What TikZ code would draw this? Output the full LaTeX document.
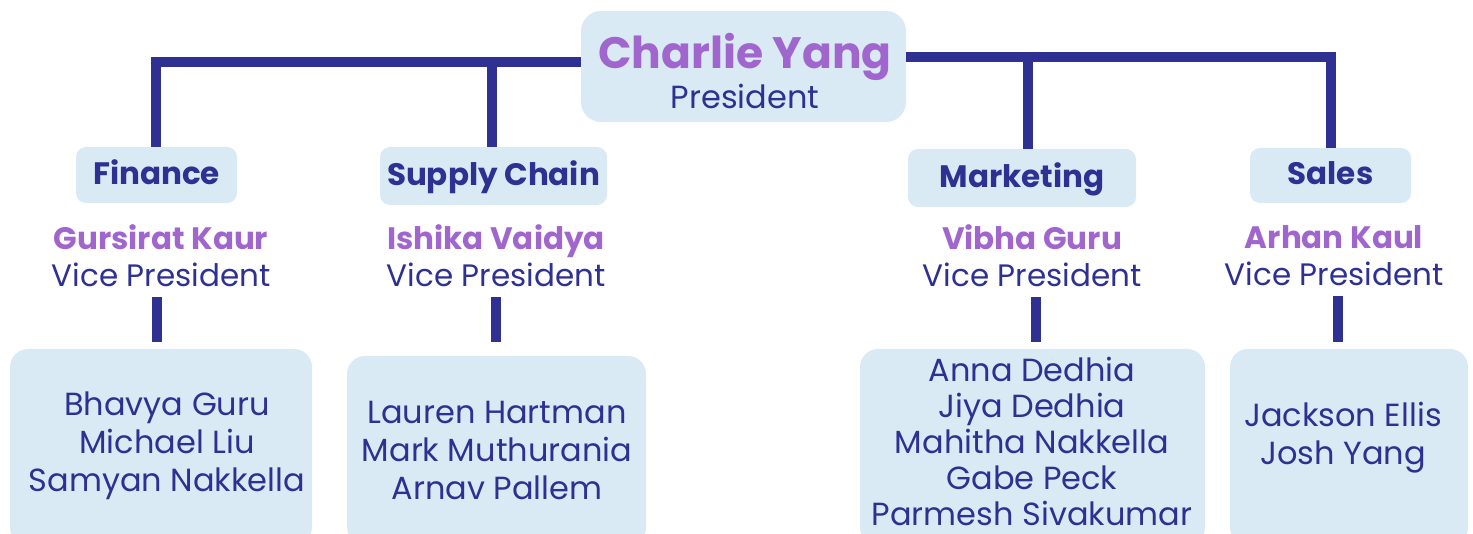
\documentclass[tikz,border=0pt]{standalone}
\usepackage{fontspec}
\setmainfont{Poppins}
\definecolor{navy}{HTML}{2E3192}
\definecolor{lilac}{HTML}{A066CE}
\definecolor{paleblue}{HTML}{DAEAF4}
\newcommand{\vpname}[1]{{\color{lilac}\bfseries #1}}

\begin{document}
\begin{tikzpicture}[x=1pt,y=-1pt,
        box/.style={fill=paleblue,draw=none,rounded corners=10pt,inner sep=0pt},
        dept/.style={box,text=navy,font=\fontsize{31}{36}\selectfont\bfseries,
          text height=22pt,text depth=3pt},
        team box/.style={box,rounded corners=18pt},
        names/.style={align=center,text=navy,inner sep=0pt},
        vp/.style={align=center,text=navy,inner sep=0pt,font=\fontsize{31}{37}\selectfont},
        link/.style={draw=navy,line width=10pt,line join=miter}]
        \useasboundingbox (0,0) rectangle (1473,534);
        % president
        \node[box, rounded corners=20pt, minimum width=325, minimum height=111] (pres) at (743.5,66.5) {};
        \node[names] (presname) at (745,71)
          {{\color{lilac}\bfseries\fontsize{44}{48}\selectfont Charlie Yang}\\[3pt]
           {\fontsize{32}{34}\selectfont President}};
        % departments
        \node[dept, minimum width=161, minimum height=56] (fin) at (156.5,175) {Finance};
        \node[dept, minimum width=227, minimum height=58] (sup) at (493.5,176) {Supply Chain};
        \node[dept, minimum width=228, minimum height=58] (mkt) at (1022,178) {Marketing};
        \node[dept, minimum width=161, minimum height=55] (sal) at (1330.5,175.5) {Sales};
        % vice presidents
        \node[vp] (finvp) at (161,256) {\vpname{Gursirat Kaur}\\Vice President};
        \node[vp] (supvp) at (496,256) {\vpname{Ishika Vaidya}\\Vice President};
        \node[vp] (mktvp) at (1032,256) {\vpname{Vibha Guru}\\Vice President};
        \node[vp] (salvp) at (1334,256) {\vpname{Arhan Kaul}\\Vice President};
        % teams
        \node[team box, minimum width=302, minimum height=196] (finteam) at (161,447) {};
        \node[team box, minimum width=299, minimum height=189] (supteam) at (496.5,450.5) {};
        \node[team box, minimum width=345, minimum height=196] (mktteam) at (1032.5,447) {};
        \node[team box, minimum width=238, minimum height=196] (salteam) at (1349,447) {};
        \node[names, font=\fontsize{32}{38}\selectfont] (finnames) at (167,446)
          {Bhavya Guru\\Michael Liu\\Samyan Nakkella};
        \node[names, font=\fontsize{32}{38}\selectfont] (supnames) at (497,450)
          {Lauren Hartman\\Mark Muthurania\\Arnav Pallem};
        \node[names, font=\fontsize{32}{36}\selectfont] (mktnames) at (1032,441)
          {Anna Dedhia\\Jiya Dedhia\\Mahitha Nakkella\\Gabe Peck\\Parmesh Sivakumar};
        \node[names, font=\fontsize{32}{38}\selectfont] (salnames) at (1343,438)
          {Jackson Ellis\\Josh Yang};
        % connectors
        \coordinate (lj) at ([yshift=4pt]pres.west);
        \coordinate (rj) at ([yshift=9pt]pres.east);
        \draw[link] ([xshift=-1pt]fin.north) |- (lj);
        \draw[link] ([xshift=-2pt]sup.north) -- ([xshift=-2pt]sup.north |- lj);
        \draw[link] (rj) -| (sal.north);
        \draw[link] ([xshift=6pt]mkt.north) -- ([xshift=6pt]mkt.north |- rj);
        \draw[link, shorten <=10pt, shorten >=7pt] (fin.north |- finvp.south) -- (fin.north |- finteam.north);
        \draw[link, shorten <=10pt, shorten >=14pt] (supvp.south) -- (supvp.south |- supteam.north);
        \draw[link, shorten <=10pt, shorten >=7pt] ([xshift=4pt]mktvp.south) -- ([xshift=4pt]mktvp.south |- mktteam.north);
        \draw[link, shorten <=10pt, shorten >=7pt] ([xshift=4pt]salvp.south) -- ([xshift=4pt]salvp.south |- salteam.north);
\end{tikzpicture}
\end{document}
